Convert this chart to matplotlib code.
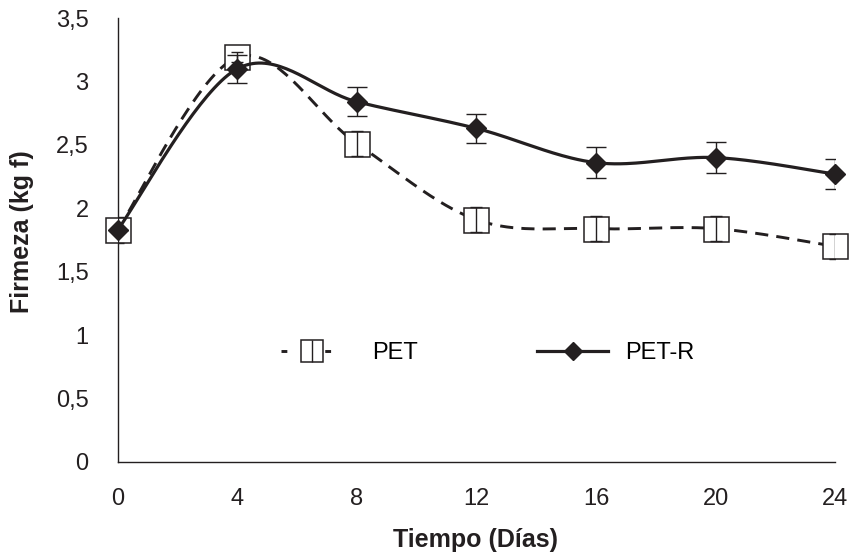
import numpy as np
import matplotlib.pyplot as plt
from matplotlib.lines import Line2D
from matplotlib.ticker import FuncFormatter

plt.rcParams['font.family'] = ['Liberation Sans', 'DejaVu Sans']

dias = [0, 4, 8, 12, 16, 20, 24]
pet = [1.83, 3.19, 2.51, 1.91, 1.84, 1.84, 1.70]
pet_err = [0.10, 0.04, 0.10, 0.10, 0.10, 0.10, 0.10]
pet_r = [1.83, 3.10, 2.84, 2.63, 2.36, 2.40, 2.27]
pet_r_err = [0.0, 0.11, 0.115, 0.115, 0.12, 0.12, 0.12]

ink = '#231f20'


def smooth(x, y, n=40):
    # catmull-rom smoothing with repeated end points (spreadsheet style)
    x = np.asarray(x, float)
    y = np.asarray(y, float)
    px = np.concatenate([[x[0]], x, [x[-1]]])
    py = np.concatenate([[y[0]], y, [y[-1]]])
    xs, ys = [], []
    t = np.linspace(0, 1, n)
    for i in range(1, len(px) - 2):
        for p, out in ((px, xs), (py, ys)):
            p0, p1, p2, p3 = p[i - 1], p[i], p[i + 1], p[i + 2]
            out.extend(0.5 * ((2 * p1) + (-p0 + p2) * t
                              + (2 * p0 - 5 * p1 + 4 * p2 - p3) * t ** 2
                              + (-p0 + 3 * p1 - 3 * p2 + p3) * t ** 3))
    return np.array(xs), np.array(ys)


fig = plt.figure(figsize=(8.53, 5.57), dpi=100)
ax = fig.add_axes([0.138, 0.1706, 0.841, 0.797])

sx, sy = smooth(dias, pet)
ax.plot(sx, sy, color=ink, lw=2.1, dashes=(4.5, 2.8), zorder=2)
ax.plot(dias, pet, ls='none', marker='s', ms=18, mfc='white',
        mec=ink, mew=1.1, zorder=3, clip_on=False)
ax.errorbar(dias, pet, yerr=pet_err, fmt='none', ecolor=ink,
            elinewidth=1.0, capsize=4, capthick=1.0, zorder=4)

sx, sy = smooth(dias, pet_r)
ax.plot(sx, sy, color=ink, lw=2.3, zorder=5)
ax.errorbar(dias, pet_r, yerr=pet_r_err, fmt='none', ecolor=ink,
            elinewidth=1.0, capsize=7, capthick=1.0, zorder=5)
ax.plot(dias, pet_r, ls='none', marker='D', ms=10, color=ink,
        zorder=6, clip_on=False)

# legend handles
h1 = Line2D([], [], color=ink, lw=2.1, dashes=(2.0, 5.5), marker='s',
            ms=16, mfc='white', mec=ink, mew=1.1)
h1b = Line2D([], [], ls='none', marker='|', ms=16, mew=1.0, color=ink)
h2 = Line2D([], [], color=ink, lw=2.3, marker='D', ms=9)
leg1 = ax.legend([(h1, h1b)], ['PET'], loc='center left',
                 bbox_to_anchor=(0.228, 0.245), frameon=False, fontsize=17,
                 handlelength=2.6, handletextpad=1.25, borderpad=0,
                 borderaxespad=0)
ax.add_artist(leg1)
ax.legend([h2], ['PET-R'], loc='center left', bbox_to_anchor=(0.585, 0.245),
          frameon=False, fontsize=17, handlelength=3.0, handletextpad=0.7,
          borderpad=0, borderaxespad=0)

ax.set_xlim(0, 24)
ax.set_ylim(0, 3.5)
ax.set_xticks(dias)
ax.set_yticks(np.arange(0, 3.51, 0.5))
ax.yaxis.set_major_formatter(FuncFormatter(lambda v, p: f'{v:g}'.replace('.', ',')))
ax.tick_params(length=0, labelsize=17, colors=ink)
ax.tick_params(axis='y', pad=21)
ax.tick_params(axis='x', pad=19)
for s in ['top', 'right']:
    ax.spines[s].set_visible(False)
for s in ['left', 'bottom']:
    ax.spines[s].set_color(ink)
    ax.spines[s].set_linewidth(1.0)

ax.set_xlabel('Tiempo (Días)', fontsize=18, fontweight='bold', color=ink)
ax.set_ylabel('Firmeza (kg f)', fontsize=18, fontweight='bold', color=ink)
ax.xaxis.set_label_coords(0.499, -0.148)
ax.yaxis.set_label_coords(-0.117, 0.52)

fig.savefig('out.png', dpi=100)
